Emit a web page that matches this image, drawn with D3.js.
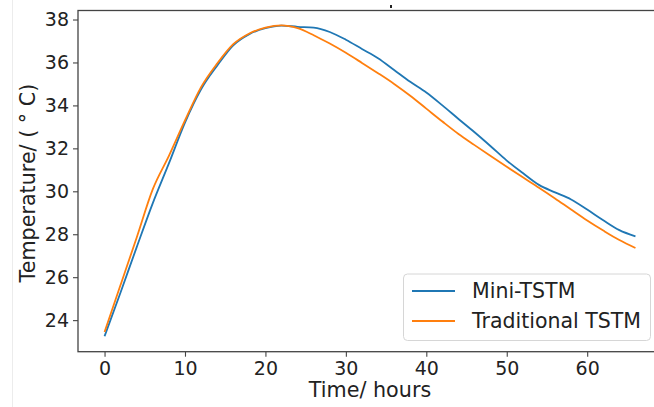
<!DOCTYPE html>
<html>
<head>
<meta charset="utf-8">
<script src="https://cdn.jsdelivr.net/npm/d3@7"></script>
<style>
    body { margin: 0; background: #fff; }
    text { font-family: "DejaVu Sans", sans-serif; fill: #222; }
</style>
</head>
<body>
<div id="chart"></div>
<script>
// time axis (hours) shared by both series
const hours = [0, 2, 4, 6, 8, 10, 12, 14, 16, 18, 20, 22, 24, 26, 28, 30, 32, 34, 36, 38, 40,
    42, 44, 46, 48, 50, 52, 54, 56, 58, 60, 62, 64, 66];
const miniTSTM = [23.25, 25.3, 27.4, 29.45, 31.3, 33.2, 34.75, 35.85, 36.8, 37.32, 37.6, 37.72, 37.66, 37.62, 37.42, 37.06, 36.63,
    36.2, 35.65, 35.1, 34.6, 34.0, 33.37, 32.75, 32.1, 31.43, 30.85, 30.3, 29.95, 29.62, 29.15, 28.65, 28.19, 27.9];
const traditionalTSTM = [23.45, 25.65, 27.85, 30.1, 31.65, 33.3, 34.85, 35.95, 36.85, 37.35, 37.62, 37.73, 37.6, 37.27, 36.88, 36.45, 35.98,
    35.5, 35.0, 34.45, 33.85, 33.25, 32.67, 32.15, 31.64, 31.14, 30.65, 30.17, 29.67, 29.15, 28.64, 28.17, 27.73, 27.36];
const xTicks = [0, 10, 20, 30, 40, 50, 60];
const yTicks = [24, 26, 28, 30, 32, 34, 36, 38];
const seriesNames = ["Mini-TSTM", "Traditional TSTM"];
const colors = ["#1f77b4", "#ff7f0e"];

const W = 654, H = 407;
const plot = { left: 78, right: 662, top: 10.5, bottom: 351.7 };

const svg = d3.select("#chart")
    .append("svg")
    .attr("width", W)
    .attr("height", H);

// faint border line on the far left of the picture
svg.append("line")
    .attr("x1", 12.5).attr("x2", 12.5)
    .attr("y1", 0).attr("y2", H)
    .attr("stroke", "#ececec");

const x = d3.scaleLinear()
    .domain([-3.3, 69.3])
    .range([plot.left, plot.right]);

const y = d3.scaleLinear()
    .domain([22.53, 38.42])
    .range([plot.bottom, plot.top]);

// lines
const series = [miniTSTM, traditionalTSTM];
const line = d3.line()
    .x(d => x(d[0]))
    .y(d => y(d[1]))
    .curve(d3.curveMonotoneX);

series.map((values, i) => {
    svg.append("path")
        .datum(hours.map((h, j) => [h, values[j]]))
        .attr("fill", "none")
        .attr("stroke", colors[i])
        .attr("stroke-width", 1.8)
        .attr("d", line);
});

// Add X axis
const xAxis = svg.append("g")
    .attr("transform", `translate(0, ${plot.bottom})`)
    .call(d3.axisBottom(x).tickValues(xTicks).tickSize(5).tickPadding(5).tickSizeOuter(0));
xAxis.selectAll("text").attr("font-size", "19px");

// Add Y axis
const yAxis = svg.append("g")
    .attr("transform", `translate(${plot.left}, 0)`)
    .call(d3.axisLeft(y).tickValues(yTicks).tickSize(5).tickPadding(4).tickSizeOuter(0));
yAxis.selectAll("text").attr("font-size", "19px");

svg.selectAll(".domain").remove();
svg.selectAll(".tick line").attr("stroke", "#444").attr("stroke-width", 1.1);
svg.selectAll(".tick text").style("fill", "#222").attr("font-family", "DejaVu Sans");

// spines
svg.append("rect")
    .attr("x", plot.left)
    .attr("y", plot.top)
    .attr("width", plot.right - plot.left)
    .attr("height", plot.bottom - plot.top)
    .attr("fill", "none")
    .attr("stroke", "#444")
    .attr("stroke-width", 1.3);

// small mark above the top spine
svg.append("rect")
    .attr("x", 390).attr("y", 5)
    .attr("width", 2).attr("height", 3)
    .attr("fill", "#222");

// axis labels
svg.append("text")
    .attr("x", (plot.left + plot.right) / 2)
    .attr("y", 397)
    .attr("text-anchor", "middle")
    .attr("font-size", "20.7px")
    .text("Time/ hours");

svg.append("text")
    .attr("transform", `translate(35, ${(plot.top + plot.bottom) / 2 + 2}) rotate(-90)`)
    .attr("text-anchor", "middle")
    .attr("font-size", "20.7px")
    .text("Temperature/ ( ° C)");

// legend
const legend = svg.append("g");
legend.append("rect")
    .attr("x", 403.5).attr("y", 274)
    .attr("width", 247).attr("height", 66.5)
    .attr("rx", 4)
    .attr("fill", "#fff")
    .attr("fill-opacity", 0.8)
    .attr("stroke", "#d6d6d6");

seriesNames.map((value, index) => {
    const cy = 291 + index * 30;
    legend.append("line")
        .attr("x1", 412).attr("x2", 455)
        .attr("y1", cy).attr("y2", cy)
        .attr("stroke", colors[index])
        .attr("stroke-width", 1.8);
    legend.append("text")
        .attr("x", 472)
        .attr("y", cy)
        .attr("dy", "0.36em")
        .attr("font-size", "20.5px")
        .text(value);
});
</script>
</body>
</html>
